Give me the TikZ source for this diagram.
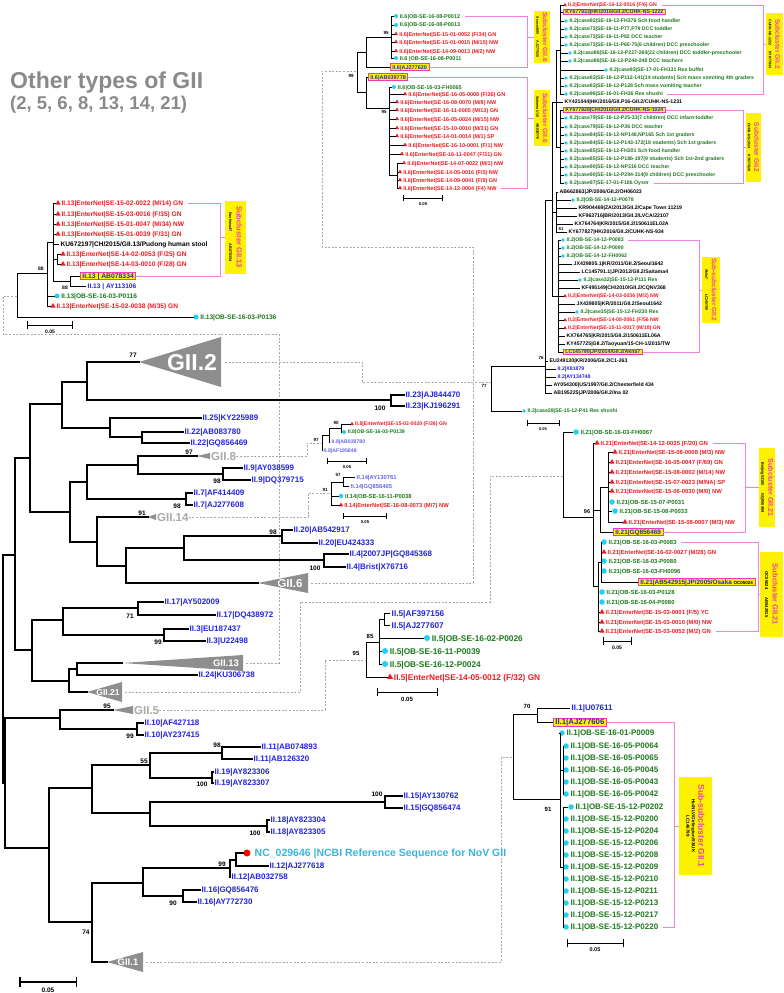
\documentclass[tikz,border=0pt]{standalone}
\usepackage{fontspec}
\setmainfont{Liberation Sans}
\usetikzlibrary{shapes.geometric}

\definecolor{enred}{HTML}{EE1D23}
\definecolor{obgreen}{HTML}{1E7A1E}
\definecolor{refblue}{HTML}{2424E0}
\definecolor{dotcyan}{HTML}{22D0F0}
\definecolor{clpink}{HTML}{F03CB4}
\definecolor{brkpink}{HTML}{EE82DC}
\definecolor{hlyellow}{HTML}{FFF200}
\definecolor{collgray}{HTML}{8E8E8E}
\definecolor{palegray}{HTML}{A9A9A9}
\definecolor{titlegray}{HTML}{8A8A8A}
\definecolor{ncbicyan}{HTML}{3BB6DA}

\newcommand\setsz[1]{\bfseries\fontsize{#1}{#1}\selectfont}

\begin{document}
\begin{tikzpicture}[x=1pt,y=-1pt,
    br/.style={line width=1.5pt,line cap=rect},
    sb/.style={line width=0.8pt,line cap=rect},
    tb/.style={line width=0.6pt,line cap=rect},
    dlink/.style={draw=palegray,dash pattern=on 2pt off 1.6pt,line width=0.6pt},
    brk/.style={draw=brkpink,line width=0.7pt},
    lbl/.style={anchor=west,inner xsep=1.5pt,inner ysep=0pt,text depth=0pt,font=\setsz{8},text height=5.8pt},
    s13/.style={font=\setsz{6.6},text height=4.8pt},
    s6/.style={font=\setsz{5.5},text height=4pt},
    s8/.style={font=\setsz{5.2},text height=3.8pt},
    s14/.style={font=\setsz{5.8},text height=4.2pt},
    s5/.style={font=\setsz{8.3},text height=6pt},
    s21/.style={font=\setsz{5.9},text height=4.2pt},
    s1/.style={font=\setsz{8},text height=5.8pt},
    s2/.style={font=\setsz{5.2},text height=3.8pt},
    entxt/.style={text=enred},
    obtxt/.style={text=obgreen},
    rftxt/.style={text=refblue},
    gbtxt/.style={text=black},
    boot/.style={inner sep=0pt,font=\setsz{6.5}},
    obmark/.style={circle,fill=dotcyan,inner sep=0pt,minimum size=#1},
    obmark/.default=5pt,
    enmark/.style={regular polygon,regular polygon sides=3,fill=enred,inner sep=0pt,minimum size=#1},
    enmark/.default=6pt,
    refbox/.style={anchor=west,draw=clpink,fill=hlyellow,line width=0.8pt,text=refblue,inner xsep=2pt,inner ysep=1.2pt,text depth=0pt},
    clbox/.style={fill=hlyellow,rotate=-90,align=center,inner sep=1pt,text=clpink},
    coll/.style={text=white,inner sep=0pt,text depth=0pt},
    collab/.style={anchor=west,inner sep=0pt,text=palegray,font=\setsz{11.5},text height=8.3pt,text depth=0pt}
]
\useasboundingbox (0,0) rectangle (784,993);
\fill[white] (0,0) rectangle (784,993);

\node[anchor=west,inner sep=0pt,text=titlegray,font=\setsz{23},text height=16.5pt,text depth=0pt] (title) at (10,80) {Other types of GII};
\node[anchor=west,inner sep=0pt,text=titlegray,font=\setsz{18.5},text height=13pt,text depth=0pt] (subtitle) at (10,103) {(2, 5, 6, 8, 13, 14, 21)};

\coordinate (nRoot) at (3,669);
\coordinate (nP) at (15,555);
\coordinate (nA) at (30,458);
\coordinate (nB) at (62,404);
\coordinate (nD) at (87,382);
\coordinate (n23) at (391,400);
\coordinate (nE) at (110,428);
\coordinate (nF) at (142,437);
\coordinate (nG) at (70,512);
\coordinate (nH) at (87,482);
\coordinate (nJ) at (138,465);
\coordinate (n9) at (223,474);
\coordinate (n7) at (186,499);
\coordinate (nI) at (97,542);
\coordinate (nL) at (126,566);
\coordinate (nM) at (184,548);
\coordinate (n20) at (282,536);
\coordinate (n4) at (324,560);
\coordinate (nQ) at (32,650);
\coordinate (nN) at (63,620);
\coordinate (n17) at (138,608);
\coordinate (n3) at (164,635);
\coordinate (nR) at (69,681);
\coordinate (nS) at (77,669);
\coordinate (nU) at (5,783);
\coordinate (nT) at (60,718);
\coordinate (n10) at (137,729);
\coordinate (nV) at (49,848);
\coordinate (nW) at (92,788);
\coordinate (nY) at (150,765);
\coordinate (n11) at (222,753);
\coordinate (n19) at (212,778);
\coordinate (nZ) at (150,813);
\coordinate (n15) at (385,802);
\coordinate (n18) at (267,826);
\coordinate (nX) at (92,922);
\coordinate (nAA) at (143,883);
\coordinate (nAB) at (230,868);
\coordinate (nAC) at (236,860);
\coordinate (n16) at (183,896);

\coordinate (g2tip) at (139,362);
\coordinate (g8tip) at (197,456);
\coordinate (g14tip) at (148,517);
\coordinate (g6tip) at (258,583);
\coordinate (g13tip) at (122,663);
\coordinate (g21tip) at (87,692);
\coordinate (g5tip) at (113,710);
\coordinate (g1tip) at (107,962);

\coordinate (r2) at (491,382);
\coordinate (r6) at (357,71);
\coordinate (r8) at (322,443);
\coordinate (r14) at (331,493);
\coordinate (r13) at (17,296);
\coordinate (r21) at (563,476);
\coordinate (r5) at (366,660);
\coordinate (r1) at (513,757);

\fill[collgray] (g2tip) -- (221,337) -- (221,387) -- cycle;
\node[coll,font=\setsz{23},text height=16.5pt] (g2) at (192,362) {GII.2};
\fill[collgray] (g6tip) -- (308,573) -- (308,593) -- cycle;
\node[coll,font=\setsz{11.5},text height=8.3pt] (g6) at (290,583) {GII.6};
\fill[collgray] (g13tip) -- (243,655) -- (243,671) -- cycle;
\node[coll,fill=collgray,inner sep=1pt,font=\setsz{9.5},text height=6.8pt] (g13) at (226,663) {GII.13};
\fill[collgray] (g21tip) -- (122,682) -- (122,702) -- cycle;
\node[coll,font=\setsz{8.5},text height=6.1pt] (g21) at (108,692) {GII.21};
\fill[collgray] (g1tip) -- (143,952) -- (143,972) -- cycle;
\node[coll,font=\setsz{9.5},text height=6.8pt] (g1) at (128,962) {GII.1};
\fill[collgray] (g8tip) -- (210,453) -- (210,459) -- cycle;
\node[collab] (g8) at (211,456) {GII.8};
\fill[collgray] (g14tip) -- (156,514) -- (156,520) -- cycle;
\node[collab] (g14) at (157,517) {GII.14};
\fill[collgray] (g5tip) -- (133,706) -- (133,714) -- cycle;
\node[collab] (g5) at (134,710) {GII.5};

\coordinate (d2) at (225,362);
\coordinate (lk2) at (362,382);
\coordinate (d6) at (311,583);
\coordinate (lk6a) at (473,247);
\coordinate (lk6b) at (322,71);
\coordinate (d13) at (246,663);
\coordinate (lk13a) at (279,334);
\coordinate (lk13b) at (3,296);
\coordinate (d21) at (125,692);
\coordinate (lk21a) at (300,602);
\coordinate (lk21b) at (490,476);
\coordinate (lk5) at (325,660);
\coordinate (lk8) at (307,443);
\coordinate (lk14) at (308,493);
\coordinate (d1) at (146,962);
\coordinate (lk1) at (501,757);
\draw[dlink] (d2) -| (lk2) -- (r2);
\draw[dlink] (d6) -| (lk6a) -| (lk6b) -- (r6);
\draw[dlink] (d13) -| (lk13a) -| (lk13b) -- (r13);
\draw[dlink] (d21) -| (lk21a) -| (lk21b) -- (r21);
\draw[dlink] (g5.east) -| (lk5) -- (r5);
\draw[dlink] (g8.east) -| (lk8) -- (r8);
\draw[dlink] (g14.east) -| (lk14) -- (r14);
\draw[dlink] (d1) -| (lk1) -- (r1);

\node[lbl,rftxt] (l23a) at (404,395) {II.23|AJ844470};
\node[lbl,rftxt] (l23b) at (404,406) {II.23|KJ196291};
\node[lbl,rftxt] (l25) at (201,418) {II.25|KY225989};
\node[lbl,rftxt] (l22a) at (183,432) {II.22|AB083780};
\node[lbl,rftxt] (l22b) at (189,443) {II.22|GQ856469};
\node[lbl,rftxt] (l9a) at (242,468) {II.9|AY038599};
\node[lbl,rftxt] (l9b) at (250,480) {II.9|DQ379715};
\node[lbl,rftxt] (l7a) at (192,493) {II.7|AF414409};
\node[lbl,rftxt] (l7b) at (192,505) {II.7|AJ277608};
\node[lbl,rftxt] (l20a) at (292,530) {II.20|AB542917};
\node[lbl,rftxt] (l20b) at (317,543) {II.20|EU424333};
\node[lbl,rftxt] (l4a) at (348,554) {II.4|2007JP|GQ845368};
\node[lbl,rftxt] (l4b) at (345,567) {II.4|Brist|X76716};
\node[lbl,rftxt] (l17a) at (163,602) {II.17|AY502009};
\node[lbl,rftxt] (l17b) at (215,615) {II.17|DQ438972};
\node[lbl,rftxt] (l3a) at (188,629) {II.3|EU187437};
\node[lbl,rftxt] (l3b) at (205,641) {II.3|U22498};
\node[lbl,rftxt] (l24) at (197,675) {II.24|KU306738};
\node[lbl,rftxt] (l10a) at (143,723) {II.10|AF427118};
\node[lbl,rftxt] (l10b) at (143,735) {II.10|AY237415};
\node[lbl,rftxt] (l11a) at (260,747) {II.11|AB074893};
\node[lbl,rftxt] (l11b) at (252,759) {II.11|AB126320};
\node[lbl,rftxt] (l19a) at (213,772) {II.19|AY823306};
\node[lbl,rftxt] (l19b) at (213,783) {II.19|AY823307};
\node[lbl,rftxt] (l15a) at (402,796) {II.15|AY130762};
\node[lbl,rftxt] (l15b) at (402,808) {II.15|GQ856474};
\node[lbl,rftxt] (l18a) at (269,820) {II.18|AY823304};
\node[lbl,rftxt] (l18b) at (269,832) {II.18|AY823305};
\node[lbl,rftxt] (l12a) at (268,866) {II.12|AJ277618};
\node[lbl,rftxt] (l12b) at (230,877) {II.12|AB032758};
\node[lbl,rftxt] (l16a) at (200,890) {II.16|GQ856476};
\node[lbl,rftxt] (l16b) at (196,902) {II.16|AY772730};
\node[circle,fill=red,inner sep=0pt,minimum size=7pt] (ncdot) at (247,853) {};
\node[lbl,font=\setsz{10.5},text height=7.6pt,text=ncbicyan] (ncref) at (253,853) {NC\_029646 |NCBI Reference Sequence for NoV GII};

\foreach \pn/\cn in {nRoot/nP,nRoot/nU,nP/nA,nP/nQ,nA/nB,nA/nG,nB/nD,nB/nE,nD/g2tip,nD/n23,
    n23/l23a,n23/l23b,nE/l25,nE/nF,nF/l22a,nF/l22b,nG/nH,nG/nI,nH/nJ,nH/n7,nJ/g8tip,nJ/n9,
    n9/l9a,n9/l9b,n7/l7a,n7/l7b,nI/g14tip,nI/nL,nL/nM,nL/g6tip,nM/n20,nM/n4,n20/l20a,n20/l20b,
    n4/l4a,n4/l4b,nQ/nN,nQ/nR,nN/n17,nN/n3,n17/l17a,n17/l17b,n3/l3a,n3/l3b,nR/nS,nR/g21tip,
    nS/g13tip,nS/l24,nU/nT,nU/nV,nT/g5tip,nT/n10,n10/l10a,n10/l10b,nV/nW,nV/nX,nW/nY,nW/nZ,
    nY/n11,nY/n19,n11/l11a,n11/l11b,n19/l19a,n19/l19b,nZ/n15,nZ/n18,n15/l15a,n15/l15b,
    n18/l18a,n18/l18b,nX/nAA,nX/g1tip,nAA/nAB,nAA/n16,nAB/nAC,nAB/l12b,nAC/ncdot,nAC/l12a,
    n16/l16a,n16/l16b}
  \draw[br] (\pn) |- (\cn);

\foreach \x/\y/\nm [count=\i] in {133/355/77,380/408/100,189/452/97,217/481/98,177/506/98,142/513/91,
    273/532/98,315/568/100,130/616/71,158/642/99,107/706/95,130/736/99,217/745/98,144/761/55,
    202/784/100,377/794/100,255/833/100,222/864/99,173/903/90,86/932/74}
  \node[boot] (bm-\i) at (\x,\y) {\nm};
\coordinate (sbm1) at (19,982);
\coordinate (sbm2) at (77,982);
\draw[br,|-|] (sbm1) -- (sbm2);
\node[boot] (sbmt) at (48,990) {0.05};

\coordinate (n13a) at (47,273);
\coordinate (n13b) at (53,242);
\coordinate (n13c) at (57,259);
\coordinate (n13d) at (70,281);
\foreach \i/\x/\y/\nm in {1/58/203/{15-02-0022 (M/14) GN},2/58/214/{15-03-0016 (F/35) GN},
    3/58/224/{15-01-0047 (M/34) NW},4/58/234/{15-01-0039 (F/31) GN},
    6/63/254/{14-02-0053 (F/25) GN},7/63/264/{14-03-0010 (F/28) GN},11/53/306/{15-02-0038 (M/35) GN}}{
  \node[enmark=6pt] (m13-\i) at (\x,\y) {};
  \node[lbl,s13,entxt] (t13-\i) at (m13-\i.east) {II.13|EnterNet|SE-\nm};
}
\node[lbl,s13,gbtxt] (t13-5) at (59,244) {KU672197|CH/2015/GII.13/Pudong human stool};
\node[refbox,font=\setsz{6.8},text height=4.9pt] (x13) at (80,276) {II.13 | AB078334};
\node[lbl,s13,rftxt] (t13-9) at (86,286) {II.13 | AY113106};
\node[obmark=5pt] (m13-10) at (57,296) {};
\node[lbl,s13,obtxt] (t13-10) at (m13-10.east) {II.13|OB-SE-16-03-P0116};
\node[obmark=5pt] (m13-12) at (196,317) {};
\node[lbl,s13,obtxt] (t13-12) at (m13-12.east) {II.13|OB-SE-16-03-P0136};
\foreach \pn/\cn in {r13/n13a,r13/m13-12,n13a/n13b,n13a/m13-10,n13a/m13-11,
    n13b/m13-1,n13b/m13-2,n13b/m13-3,n13b/m13-4,n13b/t13-5,n13b/n13c,n13b/n13d,
    n13c/m13-6,n13c/m13-7,n13d/x13,n13d/t13-9}
  \draw[sb] (\pn) |- (\cn);
\node[boot,font=\setsz{5}] (b13a) at (41,269) {88};
\node[boot,font=\setsz{5}] (b13b) at (65,288) {88};
\coordinate (sb13a) at (27,325);
\coordinate (sb13b) at (73,325);
\draw[sb,|-|] (sb13a) -- (sb13b);
\node[boot,font=\setsz{5}] (sbt13) at (50,332) {0.05};
\coordinate (k13) at (220,0);
\draw[brk] ([xshift=3pt]t13-1.east) -- (k13 |- t13-1.east) |- (x13.east);
\node[clbox,minimum width=73pt,minimum height=21pt,font=\setsz{7.5}] (c13) at (235.5,237)
  {Subcluster GII.13\\{\color{black}\setsz{3.8}Kashiwa47\hspace{12pt}AB078334}};
\draw[brk] (k13 |- c13) -- (c13);

\coordinate (n6a) at (366,52);
\coordinate (n6c) at (391,37);
\coordinate (n6e) at (366,92);
\coordinate (n6d) at (389,108);
\coordinate (n6f) at (397,175);
\foreach \i/\x/\y/\nm in {1/396/16/{II.6|OB-SE-16-08-P0012},2/396/25/{II.6|OB-SE-16-08-P0013},
    6/396/58/{II.6 |OB-SE-16-08-P0011},9/394/87/{II.6|OB-SE-16-03-FH0065}}{
  \node[obmark=4pt] (m6-\i) at (\x,\y) {};
  \node[lbl,s6,obtxt] (t6-\i) at (m6-\i.east) {\nm};
}
\foreach \i/\x/\y/\nm in {3/396/34/{15-01-0052 (F/34) GN},4/396/42/{15-01-0015 (M/15) NW},
    5/396/51/{14-09-0013 (M/2) NW},10/405/94/{16-05-0008 (F/26) GN},11/397/102/{16-08-0070 (M/8) NW},
    12/397/110/{16-11-0005 (M/13) GN},13/397/119/{16-05-0024 (M/15) NW},14/397/128/{15-10-0010 (M/31) GN},
    15/397/136/{14-01-0014 (M/1) SP},16/405/145/{16-10-0001 (F/1) NW},17/402/154/{16-11-0047 (F/31) GN},
    18/404/163/{14-07-0022 (M/1) NW},19/400/172/{14-05-0016 (F/5) NW},20/400/180/{14-09-0041 (F/9) GN},
    21/400/188/{14-12-0004 (F4) NW}}{
  \node[enmark=4.8pt] (m6-\i) at (\x,\y) {};
  \node[lbl,s6,entxt] (t6-\i) at (m6-\i.east) {II.6|EnterNet|SE-\nm};
}
\node[refbox,font=\setsz{5.5},text height=4pt] (x6a) at (390,67) {II.6|AJ277620};
\node[refbox,font=\setsz{5.5},text height=4pt] (x6b) at (368,77) {II.6|AB039778};
\foreach \pn/\cn in {r6/n6a,r6/n6e,n6a/n6c,n6a/x6a,n6e/x6b,n6e/n6d,
    n6c/m6-1,n6c/m6-2,n6c/m6-3,n6c/m6-4,n6c/m6-5,n6c/m6-6,
    n6d/m6-9,n6d/m6-10,n6d/m6-11,n6d/m6-12,n6d/m6-13,n6d/m6-14,n6d/m6-15,n6d/m6-16,n6d/m6-17,n6d/n6f,
    n6f/m6-18,n6f/m6-19,n6f/m6-20,n6f/m6-21}
  \draw[tb] (\pn) |- (\cn);
\node[boot,font=\setsz{4.5}] (b6a) at (351,76) {99};
\node[boot,font=\setsz{4.5}] (b6b) at (386,33) {95};
\node[boot,font=\setsz{4.5}] (b6c) at (384,112) {95};
\coordinate (sb6a) at (403,198);
\coordinate (sb6b) at (443,198);
\draw[tb,|-|] (sb6a) -- (sb6b);
\node[boot,font=\setsz{4.2}] (sbt6) at (423,204) {0.05};
\coordinate (k6) at (527,0);
\draw[brk] ([xshift=3pt]t6-1.east) -- (k6 |- t6-1.east) |- (x6a.east);
\draw[brk] (x6b.east) -- (k6 |- x6b.east) |- ([xshift=3pt]t6-21.east);
\node[clbox,minimum width=50pt,minimum height=16pt,font=\setsz{6.5}] (c6a) at (542,37)
  {Subcluster GII.6\\{\color{black}\setsz{3.5}Seacroft90\hspace{6pt}AJ277620}};
\node[clbox,minimum width=56pt,minimum height=16pt,font=\setsz{6.5}] (c6b) at (542,118)
  {Subcluster GII.6\\{\color{black}\setsz{3.5}Saitama U16\hspace{6pt}AB039778}};
\draw[brk] (k6 |- c6a) -- (c6a);
\draw[brk] (k6 |- c6b) -- (c6b);

\coordinate (n8a) at (329,435);
\coordinate (n8b) at (341,428);
\node[enmark=4.5pt] (m8-1) at (352,424) {};
\node[lbl,s8,entxt] (t8-1) at (m8-1.east) {II.8|EnterNet|SE-15-02-0020 (F/26) GN};
\node[obmark=4pt] (m8-2) at (344,432) {};
\node[lbl,s8,obtxt] (t8-2) at (m8-2.east) {II.8|OB-SE-16-03-P0139};
\node[lbl,s8,text=refblue!70] (t8-3) at (330,442) {II.8|AB039780};
\node[lbl,s8,text=refblue!70] (t8-4) at (322,451) {II.8|AF195848};
\foreach \pn/\cn in {r8/n8a,r8/t8-4,n8a/n8b,n8a/t8-3,n8b/m8-1,n8b/m8-2}
  \draw[tb] (\pn) |- (\cn);
\node[boot,font=\setsz{4.5}] (b8a) at (316,440) {97};
\node[boot,font=\setsz{4.5}] (b8b) at (336,423) {90};
\coordinate (sb8a) at (327,461);
\coordinate (sb8b) at (367,461);
\draw[tb,|-|] (sb8a) -- (sb8b);
\node[boot,font=\setsz{4.2}] (sbt8) at (347,467) {0.05};

\coordinate (n14a) at (343,482);
\node[lbl,s14,text=refblue!70] (t14-1) at (355,477) {II.14|AY130761};
\node[lbl,s14,text=refblue!70] (t14-2) at (349,486) {II.14|GQ856465};
\node[obmark=4.5pt] (m14-3) at (341,496) {};
\node[lbl,s14,obtxt] (t14-3) at (m14-3.east) {II.14|OB-SE-16-11-P0038};
\node[enmark=5pt] (m14-4) at (341,505) {};
\node[lbl,s14,entxt] (t14-4) at (m14-4.east) {II.14|EnterNet|SE-16-08-0073 (M/7) NW};
\foreach \pn/\cn in {r14/n14a,r14/m14-3,r14/m14-4,n14a/t14-1,n14a/t14-2}
  \draw[tb] (\pn) |- (\cn);
\node[boot,font=\setsz{4.5}] (b14a) at (325,490) {91};
\node[boot,font=\setsz{4.5}] (b14b) at (338,475) {57};
\coordinate (sb14a) at (343,516);
\coordinate (sb14b) at (387,516);
\draw[tb,|-|] (sb14a) -- (sb14b);
\node[boot,font=\setsz{4.2}] (sbt14) at (365,522) {0.05};

\coordinate (n5a) at (379,642);
\coordinate (n5b) at (384,619);
\node[lbl,s5,rftxt] (t5-1) at (390,613) {II.5|AF397156};
\node[lbl,s5,rftxt] (t5-2) at (390,625) {II.5|AJ277607};
\foreach \i/\x/\y/\nm in {3/427/638/02-P0026,4/385/651/11-P0039,5/385/664/12-P0024}{
  \node[obmark=6pt] (m5-\i) at (\x,\y) {};
  \node[lbl,s5,obtxt] (t5-\i) at (m5-\i.east) {II.5|OB-SE-16-\nm};
}
\node[enmark=7pt] (m5-6) at (390,677) {};
\node[lbl,s5,entxt] (t5-6) at (m5-6.east) {II.5|EnterNet|SE-14-05-0012 (F/32) GN};
\foreach \pn/\cn in {r5/n5a,r5/m5-6,n5a/n5b,n5a/m5-3,n5a/m5-4,n5a/m5-5,n5b/t5-1,n5b/t5-2}
  \draw[sb] (\pn) |- (\cn);
\node[boot,font=\setsz{6}] (b5a) at (356,653) {95};
\node[boot,font=\setsz{6}] (b5b) at (370,636) {85};
\coordinate (sb5a) at (377,692);
\coordinate (sb5b) at (438,692);
\draw[sb,|-|] (sb5a) -- (sb5b);
\node[boot,font=\setsz{6}] (sbt5) at (407,699) {0.05};

\coordinate (n21a) at (593,517);
\coordinate (n21b) at (600,510);
\coordinate (n21d) at (608,487);
\coordinate (n21c) at (598,586);
\coordinate (n21e) at (601,562);
\foreach \i/\x/\y/\nm in {1/576/432/16-03-FH0067,8/612/502/15-07-P0031,9/615/511/15-08-P0033,
    12/604/542/16-03-P0083,14/604/561/16-03-P0080,15/604/571/16-03-FH0096,
    17/602/592/16-03-P0128,18/602/602/16-04-P0080}{
  \node[obmark=5.5pt] (m21-\i) at (\x,\y) {};
  \node[lbl,s21,obtxt] (t21-\i) at (m21-\i.east) {II.21|OB-SE-\nm};
}
\foreach \i/\x/\y/\nm in {2/597/443/{14-12-0035 (F/20) GN},3/615/452/{15-08-0008 (M/3) NW},
    4/612/462/{16-05-0047 (F/69) GN},5/612/472/{15-08-0002 (M/14) NW},6/612/482/{15-07-0023 (M/NA) SP},
    7/612/491/{15-06-0030 (M/0) NW},10/625/522/{15-08-0007 (M/3) NW},13/604/552/{16-02-0027 (M/28) GN},
    19/602/612/{15-03-0001 (F/5) YC},20/602/622/{15-03-0010 (M/0) NW},21/602/631/{15-03-0052 (M/2) GN}}{
  \node[enmark=6pt] (m21-\i) at (\x,\y) {};
  \node[lbl,s21,entxt] (t21-\i) at (m21-\i.east) {II.21|EnterNet|SE-\nm};
}
\node[refbox,font=\setsz{6.4},text height=4.6pt] (x21a) at (613,532) {II.21|GQ856469};
\node[refbox,font=\setsz{6.4},text height=4.6pt] (x21b) at (638,582) {II.21|AB542915|JP/2005/Osaka {\color{black}\setsz{4.5}OC05024}};
\foreach \pn/\cn in {r21/m21-1,r21/n21a,n21a/m21-2,n21a/n21b,n21a/n21c,n21b/n21d,n21b/x21a,
    n21d/m21-3,n21d/m21-4,n21d/m21-5,n21d/m21-6,n21d/m21-7,n21d/m21-8,n21d/m21-9,n21d/m21-10,
    n21c/n21e,n21c/m21-17,n21c/m21-18,n21c/m21-19,n21c/m21-20,n21c/m21-21,
    n21e/m21-12,n21e/m21-13,n21e/m21-14,n21e/m21-15,n21e/x21b}
  \draw[sb] (\pn) |- (\cn);
\node[boot,font=\setsz{5.5}] (b21) at (587,512) {96};
\coordinate (sb21a) at (603,641);
\coordinate (sb21b) at (632,641);
\draw[sb,|-|] (sb21a) -- (sb21b);
\node[boot,font=\setsz{5}] (sbt21) at (617,648) {0.05};
\coordinate (k21a) at (745,0);
\coordinate (k21b) at (758,0);
\draw[brk] ([xshift=3pt]t21-2.east) -- (k21a |- t21-2.east) |- (x21a.east);
\draw[brk] ([xshift=3pt]t21-12.east) -- (k21b |- t21-12.east) |- ([xshift=3pt]t21-21.east);
\node[clbox,minimum width=79pt,minimum height=16pt,font=\setsz{7}] (c21a) at (767,487.5)
  {Subcluster GII.21\\{\color{black}\setsz{3.8}Beijing53185\hspace{8pt}GQ856469}};
\node[clbox,minimum width=85pt,minimum height=23pt,font=\setsz{7.5}] (c21b) at (771.5,594.5)
  {Subcluster GII.21\\{\color{black}\setsz{4.2}OC05024\hspace{8pt}AB542915}};
\draw[brk] (k21a |- c21a) -- (c21a);
\draw[brk] (k21b |- c21b) -- (c21b);

\coordinate (n1a) at (537,714);
\coordinate (n1b) at (560,799);
\coordinate (n1c) at (563,770);
\coordinate (n1d) at (563,867);
\node[lbl,s1,rftxt] (t1-1) at (570,708) {II.1|U07611};
\node[refbox,font=\setsz{7.8},text height=5.6pt] (x1) at (553,722) {II.1|AJ277606};
\foreach \i/\x/\y/\nm in {3/562/733/16-01-P0009,4/566/746/16-05-P0064,5/566/758/16-05-P0065,
    6/566/770/16-05-P0045,7/566/782/16-05-P0043,8/566/794/16-05-P0042,9/571/807/15-12-P0202,
    10/566/819/15-12-P0200,11/566/831/15-12-P0204,12/566/843/15-12-P0206,13/566/855/15-12-P0208,
    14/566/867/15-12-P0209,15/566/879/15-12-P0210,16/566/891/15-12-P0211,17/566/903/15-12-P0213,
    18/566/915/15-12-P0217,19/566/927/15-12-P0220}{
  \node[obmark=5.5pt] (m1-\i) at (\x,\y) {};
  \node[lbl,s1,obtxt] (t1-\i) at (m1-\i.east) {II.1|OB-SE-\nm};
}
\foreach \pn/\cn in {r1/n1a,r1/n1b,n1a/t1-1,n1a/x1,n1b/m1-3,n1b/n1c,n1b/n1d,
    n1c/m1-4,n1c/m1-5,n1c/m1-6,n1c/m1-7,n1c/m1-8}
  \draw[sb] (\pn) |- (\cn);
\foreach \i in {9,...,19} \draw[sb] (n1d) |- (m1-\i);
\node[boot,font=\setsz{6}] (b1a) at (527,706) {70};
\node[boot,font=\setsz{6}] (b1b) at (548,809) {91};
\coordinate (sb1a) at (567,943);
\coordinate (sb1b) at (624,943);
\draw[sb,|-|] (sb1a) -- (sb1b);
\node[boot,font=\setsz{5.5}] (sbt1) at (595,950) {0.05};
\coordinate (k1) at (674,0);
\draw[brk] (x1.east) -- (k1 |- x1.east) |- ([xshift=3pt]t1-19.east);
\node[clbox,minimum width=98pt,minimum height=33pt,font=\setsz{8.5}] (c1) at (695.5,826)
  {Sub-subcluster GII.1\\[-2pt]{\color{black}\setsz{4.5}Hu/NLV/Girlington/93/UK}\\[-3pt]{\color{black}\setsz{4.5}LC146799}};
\draw[brk] (k1 |- c1) -- (c1);

\coordinate (n2a) at (545,366);
\coordinate (n2b) at (552,200);
\coordinate (n2c) at (556,102);
\coordinate (n2f) at (560,50);
\coordinate (n2g) at (560,147);
\coordinate (n2d) at (556,212);
\coordinate (n2e) at (558,296);
\foreach \i/\x/\y/\nm in {
    3/566/21/{case92|SE-16-12-FH376 Sch food handler},
    4/566/29/{case73|SE-16-11-P77,P79 DCC toddler},
    5/566/37/{case73|SE-16-11-P82 DCC teacher},
    6/566/45/{case73|SE-16-11-P60-75(6 children) DCC preschooler},
    7/570/53/{case86|SE-16-12-P227-260(22 children) DCC toddler-preschooler},
    8/570/61/{case86|SE-16-12-P244-248 DCC teachers},
    9/606/70/{case93|SE-17-01-FH131 Res buffet},
    10/566/78/{case83|SE-16-12-P112-141(14 students) Sch mass vomiting 4th graders},
    11/566/86/{case83|SE-16-12-P128 Sch mass vomiting teacher},
    12/566/94/{case96|SE-16-01-FH36 Res shushi},
    15/566/118/{case79|SE-16-12-P25-33(7 children) DCC infant-toddler},
    16/566/127/{case79|SE-16-12-P36 DCC teacher},
    17/566/135/{case84|SE-16-12-NP148,NP165 Sch 1st graders},
    18/566/143/{case84|SE-16-12-P143-172(18 students) Sch 1st graders},
    19/566/151/{case85|SE-16-12-FH201 Sch food handler},
    20/566/159/{case85|SE-16-12-P186-197(9 students) Sch 1st-2nd graders},
    21/566/167/{case90|SE-16-12-NP316 DCC teacher},
    22/566/175/{case90|SE-16-12-P294-314(9 children) DCC preschooler},
    23/566/183/{case97|SE-17-01-F186 Oyser},
    25/573/200/{OB-SE-14-12-P0078},
    30/563/240/{OB-SE-14-12-P0083},
    31/563/248/{OB-SE-14-12-P0090},
    32/563/256/{OB-SE-14-12-FH0062},
    35/580/280/{case32|SE-15-12-P111 Res},
    39/577/312/{case35|SE-15-12-FH230 Res},
    50/524/411/{case28|SE-15-12-P41 Res shushi}}{
  \node[obmark=3.6pt] (m2-\i) at (\x,\y) {};
  \node[lbl,s2,obtxt] (t2-\i) at (m2-\i.east) {II.2|\nm};
}
\foreach \i/\y/\nm in {1/5/{16-12-0016 (F/6) GN},37/296/{14-03-0036 (M/2) NW},
    40/320/{14-08-0061 (F/56 NW},41/328/{15-11-0017 (M/18) GN}}{
  \node[enmark=4.2pt] (m2-\i) at (565,\y) {};
  \node[lbl,s2,entxt] (t2-\i) at (m2-\i.east) {II.2|EnterNet|SE-\nm};
}
\foreach \i/\x/\y/\nm in {13/563/102/{KY421044|HK/2016/GII.P16-GII.2/CUHK-NS-1231},
    24/558/192/{AB662863|JP/2006/GII.2/OH06023},
    26/577/208/{KR904469|ZA/2013/GII.2/Cape Town 11219},
    27/577/216/{KF963716|BR/2013/GII.2/LVCA/22107},
    28/573/224/{KX764764|KR/2015/GII.2/150611EL02A},
    29/567/232/{KY677827|HK/2016/GII.2/CUHK-NS-934},
    33/572/264/{JX439805.1|KR/2011/GII.2/Seoul1642},
    34/580/272/{LC145791.1|JP/2012/GII.2/Saitama4},
    36/580/288/{KF495149|CH/2010/GII.2/CQNV368},
    38/575/304/{JX439805|KR/2011/GII.2/Seoul1642},
    42/565/336/{KX764765|KR/2015/GII.2/150611EL06A},
    43/565/344/{KY457725|GII.2/Taoyuan/15-CH-1/2015/TW},
    45/548/361/{EU249130|KR/2006/GII.2/C1-263},
    48/552/385/{AY054300|US/1997/GII.2/Chesterfield 434},
    49/552/393/{AB195225|JP/2006/GII.2/Ina 02}}{
  \node[lbl,s2,gbtxt] (t2-\i) at (\x,\y) {\nm};
}
\node[lbl,s2,rftxt] (t2-46) at (556,369) {II.2|X81879};
\node[lbl,s2,rftxt] (t2-47) at (556,377) {II.2|AY134748};
\node[refbox,font=\setsz{5.2},text height=3.8pt,inner ysep=0.8pt] (x2a) at (563,12) {KY677833|HK/2016/GII.2/CUHK-NS-1222};
\node[refbox,font=\setsz{5.2},text height=3.8pt,inner ysep=0.8pt] (x2b) at (563,110) {KY677828|CH/2016/GII.2/CUHK-NS-1024};
\node[refbox,font=\setsz{5.2},text height=3.8pt,inner ysep=0.8pt] (x2c) at (563,352) {LC145790|JP/2014/GII.2/Akita7};
\foreach \pn/\cn in {r2/n2a,r2/m2-50,n2a/n2b,n2a/t2-45,n2a/t2-46,n2a/t2-47,n2a/t2-48,n2a/t2-49,
    n2b/n2c,n2b/n2d,n2b/n2e,n2c/n2f,n2c/t2-13,n2c/n2g,
    n2f/m2-1,n2f/x2a,n2g/x2b,n2d/t2-24,n2d/m2-25,n2d/t2-26,n2d/t2-27,n2d/t2-28,n2d/t2-29,
    n2e/m2-30,n2e/m2-31,n2e/m2-32,n2e/t2-33,n2e/t2-34,n2e/m2-35,n2e/t2-36,n2e/m2-37,n2e/t2-38,
    n2e/m2-39,n2e/m2-40,n2e/m2-41,n2e/t2-42,n2e/t2-43,n2e/x2c}
  \draw[tb] (\pn) |- (\cn);
\foreach \i in {3,...,12} \draw[tb] (n2f) |- (m2-\i);
\foreach \i in {15,...,23} \draw[tb] (n2g) |- (m2-\i);
\node[boot,font=\setsz{4.5}] (b2a) at (541,358) {76};
\node[boot,font=\setsz{4.5}] (b2b) at (484,386) {77};
\node[boot,font=\setsz{4.2}] (b2c) at (561,229) {81};
\coordinate (sb2a) at (527,423);
\coordinate (sb2b) at (560,423);
\draw[tb,|-|] (sb2a) -- (sb2b);
\node[boot,font=\setsz{4}] (sbt2) at (543,429) {0.05};
\coordinate (k2a) at (763,0);
\coordinate (k2b) at (743,0);
\coordinate (k2c) at (699,0);
\draw[brk] ([xshift=3pt]t2-1.east) -- (k2a |- t2-1.east) |- ([xshift=3pt]t2-12.east);
\draw[brk] (x2b.east) -- (k2b |- x2b.east) |- ([xshift=3pt]t2-23.east);
\draw[brk] ([xshift=3pt]t2-30.east) -- (k2c |- t2-30.east) |- (x2c.east);
\node[clbox,minimum width=62pt,minimum height=17pt,font=\setsz{6.5}] (c2a) at (774.5,44)
  {Subcluster GII.2\\{\color{black}\setsz{3.6}CUHK-NS-1222\hspace{6pt}KY677833}};
\node[clbox,minimum width=69pt,minimum height=15pt,font=\setsz{6.5}] (c2b) at (753.5,147.5)
  {Subcluster GII.2\\{\color{black}\setsz{3.6}CUHK-NS-1024\hspace{6pt}KY677828}};
\node[clbox,minimum width=66pt,minimum height=18pt,font=\setsz{6.5}] (c2c) at (711,290)
  {Sub-subcluster GII.2\\{\color{black}\setsz{3.6}Akita7\hspace{14pt}LC145790}};
\draw[brk] (k2a |- c2a) -- (c2a);
\draw[brk] (k2b |- c2b) -- (c2b);
\draw[brk] (k2c |- c2c) -- (c2c);
\end{tikzpicture}
\end{document}
